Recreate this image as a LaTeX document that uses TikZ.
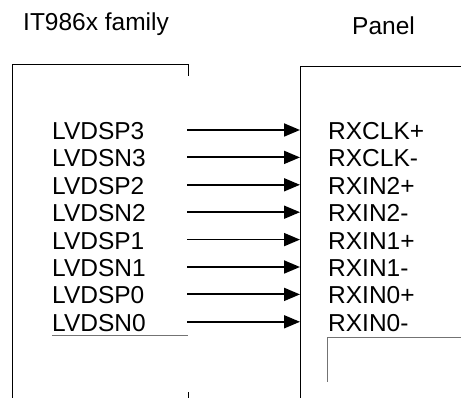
\documentclass[tikz,border=0pt]{standalone}
\usepackage{fontspec}
\setsansfont{Liberation Sans}
\usetikzlibrary{arrows.meta,positioning}

\begin{document}
\begin{tikzpicture}[x=1pt,y=-1pt,font=\sffamily\fontsize{24.5}{29}\selectfont,
  sig/.style={inner sep=0pt,anchor=west},
  wire/.style={line width=1.8pt,-{Triangle[length=16pt,width=13pt]}},
  frame/.style={line width=1pt},
  thin/.style={draw=black!55,line width=0.8pt}]
  \useasboundingbox (0,0) rectangle (461,398);
  % titles
  \node[inner sep=0pt,anchor=base west] (chip) at (23,31) {IT986x family};
  \node[inner sep=0pt,anchor=base west] (panel) at (352,35) {Panel};
  % chip box
  \draw[frame] (188,76) -- (188,65) -- (12,65) -- (12,398);
  \draw[frame] (188,392) -- (188,398);
  % panel box
  \draw[frame] (461,67) -- (300,67) -- (300,398);
  \draw[thin] (461,337) -- (327,337) -- (327,382);
  % signals
  \foreach \l/\r [count=\i from 0] in {LVDSP3/RXCLK+,LVDSN3/RXCLK-,LVDSP2/RXIN2+,LVDSN2/RXIN2-,
      LVDSP1/RXIN1+,LVDSN1/RXIN1-,LVDSP0/RXIN0+,LVDSN0/RXIN0-}{
    \node[sig] (lv\i) at (52,131+27.4*\i) {\l};
    \node[sig] (rx\i) at (328,131+27.4*\i) {\r};
    \coordinate (out\i) at (187,130+27.4*\i);
    \coordinate (in\i) at (300,130+27.4*\i);
    \draw[wire] (out\i) -- (in\i);
  }
  \draw[thin] (lv7.west |- 0,335) -- (188,335);
\end{tikzpicture}
\end{document}
